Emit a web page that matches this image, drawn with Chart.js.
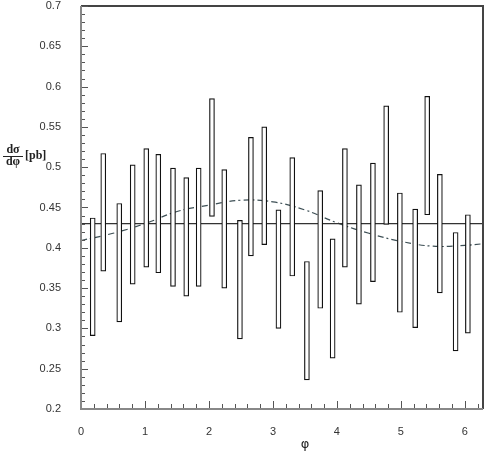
<!DOCTYPE html>
<html>
<head>
<meta charset="utf-8">
<script src="https://cdn.jsdelivr.net/npm/chart.js@4.4.1/dist/chart.umd.min.js"></script>
<style>
  html, body { margin: 0; padding: 0; background: #fff; }
  #wrap { width: 485px; height: 452px; }
</style>
</head>
<body>
<div id="wrap"><canvas id="grafico" width="485" height="452"></canvas></div>
<script>
// posizioni in phi delle barre
const phi = [0.183, 0.348, 0.598, 0.808, 1.020, 1.208, 1.438, 1.645, 1.839, 2.047,
             2.239, 2.484, 2.656, 2.864, 3.086, 3.302, 3.531, 3.739, 3.933, 4.125,
             4.344, 4.563, 4.770, 4.984, 5.223, 5.411, 5.609, 5.855, 6.047];
// estremi inferiori e superiori delle barre
const basso = [0.291, 0.371, 0.308, 0.355, 0.376, 0.369, 0.352, 0.340, 0.352, 0.439,
               0.350, 0.287, 0.390, 0.404, 0.300, 0.365, 0.236, 0.325, 0.263, 0.376,
               0.330, 0.358, 0.429, 0.320, 0.301, 0.441, 0.344, 0.272, 0.294];
const alto  = [0.437, 0.517, 0.455, 0.503, 0.523, 0.516, 0.499, 0.487, 0.499, 0.585,
               0.497, 0.434, 0.537, 0.550, 0.447, 0.512, 0.383, 0.471, 0.411, 0.523,
               0.478, 0.505, 0.576, 0.468, 0.448, 0.588, 0.491, 0.419, 0.441];

// linea piatta
const piattaX = [0, 6.2832];
const piattaY = [0.430, 0.430];

// curva tratteggiata
const curvaX = [0, 0.5, 1.0, 1.5, 2.0, 2.5, 3.0, 3.5, 4.0, 4.5, 5.0, 5.5, 6.0, 6.2832];
const curvaY = [0.409, 0.418, 0.430, 0.445, 0.453, 0.459, 0.457, 0.447, 0.431, 0.418, 0.408, 0.402, 0.403, 0.405];

// etichette degli assi
const tickX = [0, 1, 2, 3, 4, 5, 6];
const tickY = [0.2, 0.25, 0.3, 0.35, 0.4, 0.45, 0.5, 0.55, 0.6, 0.65, 0.7];

const fontTick = { family: "'Liberation Sans', Arial, sans-serif", size: 11 };

// assi, cornice, tacche interne e titoli
const assiPlugin = {
    id: 'assi',
    afterDatasetsDraw(chart) {
        const ctx = chart.ctx;
        const a = chart.chartArea;
        const sx = chart.scales.x, sy = chart.scales.y;
        ctx.save();

        // cornice alta e destra
        ctx.strokeStyle = '#444';
        ctx.lineWidth = 2;
        ctx.beginPath();
        ctx.moveTo(a.left, a.top);
        ctx.lineTo(a.right, a.top);
        ctx.lineTo(a.right, a.bottom);
        ctx.stroke();

        // tacche
        ctx.strokeStyle = '#555';
        ctx.lineWidth = 1;
        ctx.beginPath();
        for (let i = 20; i <= 70; i++) {
            const y = Math.round(sy.getPixelForValue(i / 100)) + 0.5;
            const len = (i % 5 === 0) ? 7 : 4;
            ctx.moveTo(a.left, y);
            ctx.lineTo(a.left + len, y);
        }
        for (let i = 1; i <= 31; i++) {
            const x = Math.round(sx.getPixelForValue(i / 5)) + 0.5;
            const len = (i % 5 === 0) ? 8 : 5;
            ctx.moveTo(x, a.bottom);
            ctx.lineTo(x, a.bottom - len);
        }
        ctx.stroke();

        // assi sinistro e basso
        ctx.strokeStyle = '#888';
        ctx.lineWidth = 2;
        ctx.beginPath();
        ctx.moveTo(a.left, a.top);
        ctx.lineTo(a.left, a.bottom);
        ctx.lineTo(a.right, a.bottom);
        ctx.stroke();

        // titolo asse x
        ctx.fillStyle = '#222';
        ctx.font = "13px 'DejaVu Sans', sans-serif";
        ctx.textAlign = 'center';
        ctx.textBaseline = 'middle';
        ctx.fillText('φ', 305, 445);

        // titolo asse y: dσ/dφ [pb]
        ctx.font = "bold 12px 'Liberation Serif', 'DejaVu Serif', serif";
        ctx.fillText('dσ', 13, 150);
        ctx.fillText('dφ', 13, 162);
        ctx.lineWidth = 1;
        ctx.strokeStyle = '#222';
        ctx.beginPath();
        ctx.moveTo(3, 156.5);
        ctx.lineTo(23, 156.5);
        ctx.stroke();
        ctx.textAlign = 'left';
        ctx.fillText('[pb]', 25, 156);

        ctx.restore();
    }
};

const barre = phi.map((p, i) => ({ x: p, y: [basso[i], alto[i]] }));
const piatta = piattaX.map((x, i) => ({ x: x, y: piattaY[i] }));
const curva = curvaX.map((x, i) => ({ x: x, y: curvaY[i] }));

new Chart(document.getElementById('grafico'), {
    type: 'bar',
    data: {
        datasets: [
            {
                type: 'line',
                data: piatta,
                borderColor: '#333',
                borderWidth: 1.2,
                pointRadius: 0,
                order: 2
            },
            {
                type: 'line',
                data: curva,
                borderColor: '#3d4f55',
                borderWidth: 1.2,
                borderDash: [6, 3, 2, 3],
                pointRadius: 0,
                tension: 0.4,
                order: 3
            },
            {
                type: 'bar',
                data: barre,
                backgroundColor: '#fff',
                borderColor: '#111',
                borderWidth: 1.2,
                borderSkipped: false,
                barThickness: 5,
                order: 1
            }
        ]
    },
    options: {
        responsive: false,
        animation: false,
        layout: { padding: { left: 0, right: 2, top: 6, bottom: 0 } },
        plugins: {
            legend: { display: false },
            tooltip: { enabled: false }
        },
        scales: {
            x: {
                type: 'linear',
                offset: false,
                min: 0,
                max: 6.2832,
                grid: { display: false, offset: false },
                border: { display: false },
                afterBuildTicks: s => { s.ticks = tickX.map(v => ({ value: v })); },
                afterFit: s => { s.height = 43; s.paddingLeft = 0; s.paddingRight = 0; },
                ticks: {
                    font: fontTick,
                    color: '#333',
                    padding: 8,
                    maxRotation: 0,
                    callback: v => String(v)
                }
            },
            y: {
                min: 0.2,
                max: 0.7,
                grid: { display: false },
                border: { display: false },
                afterBuildTicks: s => { s.ticks = tickY.map(v => ({ value: v })); },
                afterFit: s => { s.width = 81; s.paddingTop = 0; s.paddingBottom = 0; },
                ticks: {
                    font: fontTick,
                    color: '#333',
                    padding: 12,
                    callback: v => String(parseFloat(v.toFixed(2)))
                }
            }
        }
    },
    plugins: [assiPlugin]
});
</script>
</body>
</html>
